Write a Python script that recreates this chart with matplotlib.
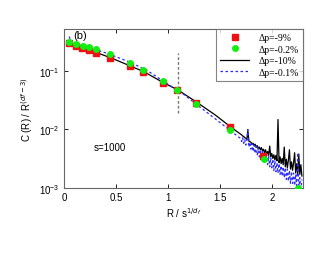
import matplotlib
matplotlib.use("Agg")
import matplotlib.pyplot as plt
from matplotlib.ticker import FixedLocator, NullLocator

# markers
rx = [0.048, 0.112, 0.177, 0.24, 0.308, 0.44, 0.632, 0.761, 0.953, 1.085, 1.275, 1.596, 1.92]
ry = [0.298, 0.27, 0.245, 0.226, 0.206, 0.167, 0.122, 0.096, 0.063, 0.047, 0.0287, 0.0111, 0.0035]
gx = [0.048, 0.112, 0.18, 0.244, 0.308, 0.44, 0.636, 0.761, 0.953, 1.085, 1.275, 1.596, 1.926, 2.25]
gy = [0.314, 0.29, 0.27, 0.254, 0.236, 0.193, 0.139, 0.104, 0.067, 0.048, 0.0276, 0.0096, 0.0031, 0.001]

# sampled x of the noisy tail (1.70 .. 2.29)
tail_x = [round(1.70 + 0.01 * i, 2) for i in range(60)]

# Δp=-10% (black)
k_head_x = [0.05, 0.1, 0.2, 0.3, 0.45, 0.6, 0.77, 0.95, 1.1, 1.28, 1.45, 1.6]
k_head_y = [0.30, 0.275, 0.24, 0.21, 0.168, 0.13, 0.097, 0.064, 0.047, 0.029, 0.018, 0.0112]
k_tail_y = [.0083, .0081, .0077, .0076, .0072, .0071, .0067, .0095, .0063, .0062,
            .0060, .0057, .0058, .0054, .0056, .0050, .0053, .0047, .0050, .0045,
            .0049, .0043, .0046, .0040, .0045, .0038, .0042, .0036, .0052, .0034,
            .0039, .0032, .0037, .0030, .0036, .0029, .0148, .0027, .0034, .0026,
            .0032, .0025, .0050, .0023, .0031, .0022, .0030, .0045, .0021, .0028,
            .0020, .0027, .0040, .0018, .0026, .0017, .0038, .0017, .0025, .0016]

# Δp=-0.1% (blue)
b_head_x = [0.05, 0.07, 0.1, 0.2, 0.3, 0.45, 0.64, 0.8, 0.95, 1.05, 1.15, 1.28, 1.45, 1.6]
b_head_y = [0.388, 0.31, 0.29, 0.26, 0.235, 0.19, 0.14, 0.102, 0.068, 0.052, 0.040, 0.0265, 0.0155, 0.0096]
b_tail_y = [.0070, .0062, .0072, .0058, .0068, .0054, .0064, .0100, .0050, .0060,
            .0046, .0057, .0042, .0054, .0039, .0051, .0036, .0048, .0034, .0045,
            .0031, .0042, .0029, .0040, .0027, .0037, .0025, .0035, .0023, .0033,
            .0022, .0031, .0020, .0029, .0019, .0027, .0018, .0026, .0017, .0024,
            .0016, .0023, .0015, .0022, .0014, .0021, .0013, .0020, .0012, .0019,
            .0012, .0018, .0011, .0017, .0010, .0040, .00095, .0015, .0009, .0014]

vline_x = 1.1
vline_y = [0.019, 0.2]

plt.rcParams['font.family'] = ['Liberation Sans', 'DejaVu Sans']
fig = plt.figure(figsize=(3.3, 2.55), dpi=100)
ax = fig.add_axes([0.194, 0.259, 0.724, 0.623])

ax.plot(k_head_x + tail_x, k_head_y + k_tail_y, '-', color='black', lw=0.9,
        label='Δp=-10%', zorder=2)
ax.plot(b_head_x + tail_x, b_head_y + b_tail_y, '--', color='#2a2aff', lw=0.9,
        dashes=(2, 2), label='Δp=-0.1%', zorder=2)
ax.plot(rx, ry, 's', color='#ee1111', ms=3.8, ls='none', label='Δp=-9%', zorder=3)
ax.plot(gx, gy, 'o', color='#11ee11', ms=4, ls='none', label='Δp=-0.2%', zorder=4)
ax.plot([vline_x, vline_x], vline_y, '--', color='#777777', lw=1, dashes=(2, 1.5), zorder=1)

ax.set_yscale('log')
ax.set_xlim(0, 2.3)
ax.set_ylim(1e-3, 0.52)
ax.xaxis.set_major_locator(FixedLocator([0, 0.5, 1, 1.5, 2]))
ax.set_xticklabels(['0', '0.5', '1', '1.5', '2'])
ax.yaxis.set_major_locator(FixedLocator([1e-3, 1e-2, 1e-1]))
ax.yaxis.set_minor_locator(NullLocator())
ax.tick_params(direction='in', top=True, right=True, labelsize=7, length=3, width=0.6, pad=3)
for s in ax.spines.values():
    s.set_color('#666666')
    s.set_linewidth(0.8)

ax.set_xlabel(r'R / s$^{1/d_f}$', fontsize=7, labelpad=2)
ax.set_ylabel('C (R) / R$^{(df-3)}$', fontsize=7, labelpad=3)

ax.text(0.09, 0.37, '(b)', fontsize=8)
ax.text(0.29, 0.0045, 's=1000', fontsize=7)

h, l = ax.get_legend_handles_labels()
order = [2, 3, 0, 1]
leg = ax.legend([h[i] for i in order], [l[i] for i in order], loc='upper right',
                prop={'family': 'Liberation Serif', 'size': 7}, frameon=True, fancybox=False,
                borderaxespad=0, handlelength=3.0, handletextpad=0.9, labelspacing=0.25,
                borderpad=0.45, markerfirst=True)
leg.get_frame().set_edgecolor('#666666')
leg.get_frame().set_linewidth(0.8)

fig.savefig('out.png', dpi=100)
